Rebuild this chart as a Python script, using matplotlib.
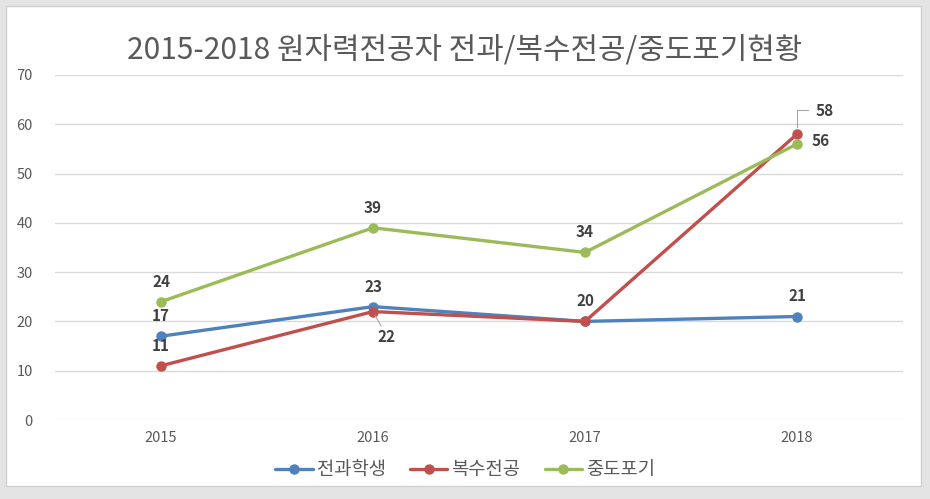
import matplotlib
matplotlib.use('Agg')
import matplotlib.pyplot as plt
from matplotlib.patches import Rectangle

plt.rcParams['font.family'] = ['Noto Sans CJK KR', 'DejaVu Sans']

# data
years = ['2015', '2016', '2017', '2018']
transfer = [17, 23, 20, 21]      # 전과학생
double_major = [11, 22, 20, 58]  # 복수전공
dropout = [24, 39, 34, 56]       # 중도포기
series_names = ['전과학생', '복수전공', '중도포기']
title = '2015-2018 원자력전공자 전과/복수전공/중도포기현황'

colors = ['#4F81BD', '#C0504D', '#9BBB59']

fig = plt.figure(figsize=(9.3, 4.99), dpi=100, facecolor='#e4e4e4')

# white chart panel inside the grey frame, drawn on a background axes
bg = fig.add_axes([0, 0, 1, 1], zorder=-1)
bg.set_xlim(0, 930)
bg.set_ylim(499, 0)
bg.axis('off')
bg.add_patch(Rectangle((6, 6), 915, 480, facecolor='white', edgecolor='#d0d0d0', lw=1))

ax = fig.add_axes([55 / 930, 1 - 420 / 499, 848 / 930, 345 / 499])
ax.set_facecolor('none')

x = list(range(len(years)))
for vals, name, c in zip([transfer, double_major, dropout], series_names, colors):
    ax.plot(x, vals, color=c, lw=2.4, marker='o', markersize=6.5, label=name,
            solid_capstyle='round', zorder=3)

ax.set_xlim(-0.5, 3.5)
ax.set_ylim(0, 70)
ax.set_yticks(range(0, 71, 10))
ax.set_xticks(x)
ax.set_xticklabels(years)
ax.grid(axis='y', color='#d9d9d9', lw=1)
ax.set_axisbelow(True)
for s in ax.spines.values():
    s.set_visible(False)
ax.tick_params(length=0, labelsize=10.5, labelcolor='#595959')
ax.tick_params(axis='y', pad=16)
ax.tick_params(axis='x', pad=8)

lab = dict(fontsize=11, fontweight='bold', color='#404040', ha='center', va='center')
# 전과학생 labels (above)
for i, v in enumerate(transfer):
    if i == 2:
        continue
    ax.annotate(str(v), (i, v), xytext=(0, 14.5), textcoords='offset points', **lab)
# 복수전공 labels
ax.annotate(str(double_major[0]), (0, double_major[0]), xytext=(0, 14), textcoords='offset points', **lab)
ax.annotate(str(double_major[1]), (1, double_major[1]), xytext=(10, -18), textcoords='offset points',
            arrowprops=dict(arrowstyle='-', color='#a6a6a6', lw=0.8, shrinkA=0, shrinkB=3), **lab)
ax.annotate(str(double_major[2]), (2, double_major[2]), xytext=(0, 15), textcoords='offset points', **lab)
ax.annotate(str(double_major[3]), (3, double_major[3]), xytext=(20, 16.5), textcoords='offset points', **lab)
ax.plot([3, 3, 3.05], [59.5, 62.8, 62.8], color='#a6a6a6', lw=0.8, zorder=2)
# 중도포기 labels
for i, v in enumerate(dropout[:3]):
    ax.annotate(str(v), (i, v), xytext=(0, 14.5), textcoords='offset points', **lab)
ax.annotate(str(dropout[3]), (3, dropout[3]), xytext=(17, 2), textcoords='offset points', **lab)

fig.text(0.5, 1 - 50 / 499, title, ha='center', va='center', fontsize=21.5, color='#595959')

leg = fig.legend(loc='center', bbox_to_anchor=(0.5, 1 - 470 / 499), ncol=3, frameon=False,
                 fontsize=13.5, handlelength=2.0, handletextpad=0.2, columnspacing=1.3)
for t in leg.get_texts():
    t.set_color('#595959')

fig.savefig('out.png', dpi=100, facecolor=fig.get_facecolor())
